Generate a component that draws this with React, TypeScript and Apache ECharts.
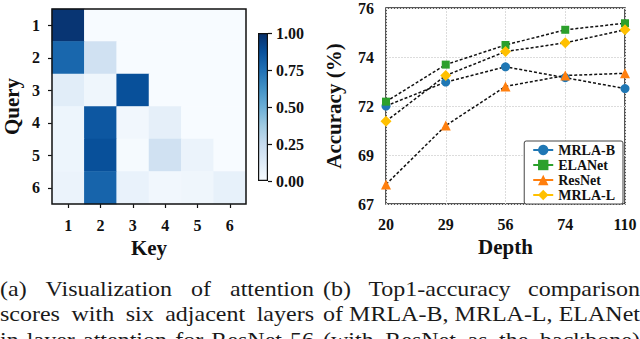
import React, { useEffect, useRef } from 'react';
import * as echarts from 'echarts';

// ---------- data ----------
const keyLabels = ['1', '2', '3', '4', '5', '6'];
const queryLabels = ['1', '2', '3', '4', '5', '6'];
// attention[query][key]
const attention = [
  [0.98, 0, 0, 0, 0, 0],
  [0.79, 0.2, 0, 0, 0, 0],
  [0.11, 0.04, 0.88, 0, 0, 0],
  [0.05, 0.85, 0.03, 0.09, 0, 0],
  [0.05, 0.88, 0.01, 0.2, 0.06, 0],
  [0.06, 0.8, 0.07, 0.03, 0.04, 0.08],
];
const colorbarRange = [0, 1];

const depths = ['20', '29', '56', '74', '110'];
const mrlaB = [71.5, 72.6, 73.3, 72.8, 72.3];
const elaNet = [71.7, 73.4, 74.3, 75.0, 75.3];
const resNet = [67.9, 70.6, 72.4, 72.9, 73.0];
const mrlaL = [70.8, 72.9, 74.0, 74.4, 75.0];
const accRange = [67, 76];

const captionA = [
  '(a) Visualization of attention',
  'scores with six adjacent layers',
  'in layer attention for ResNet-56',
];
const captionB = [
  '(b) Top1-accuracy comparison',
  'of MRLA-B, MRLA-L, ELANet',
  '(with ResNet as the backbone)',
];

// ---------- styles ----------
const SERIF = '"Liberation Serif", "Times New Roman", serif';
const BLUES = ['#f7fbff', '#deebf7', '#c6dbef', '#9ecae1', '#6baed6', '#4292c6', '#2171b5', '#08519c', '#08306b'];
const INK = '#111';

const CAP_SIZE = 20;
const CAP_SCALE = 1.2;
const CAP_LINES_Y = [289, 314.5, 340];

function measure(text: string, fontSize: number): number {
  const c = document.createElement('canvas');
  const ctx = c.getContext('2d');
  if (!ctx) return text.length * fontSize * 0.45;
  ctx.font = `${fontSize}px "Liberation Serif"`;
  return ctx.measureText(text).width;
}

function justified(line: string, x0: number, x1: number, y: number): any[] {
  const words = line.split(' ');
  const widths = words.map((w) => measure(w, CAP_SIZE) * CAP_SCALE);
  const total = widths.reduce((a, b) => a + b, 0);
  const gap = words.length > 1 ? (x1 - x0 - total) / (words.length - 1) : 0;
  let x = x0;
  return words.map((w, i) => {
    const el = {
      type: 'text',
      x,
      y,
      scaleX: CAP_SCALE,
      silent: true,
      style: {
        text: w,
        fontSize: CAP_SIZE,
        fontFamily: SERIF,
        fill: '#1a1a1a',
        align: 'left',
        verticalAlign: 'middle',
      },
    };
    x += widths[i] + gap;
    return el;
  });
}

export default function App() {
  const ref = useRef<HTMLDivElement>(null);

  useEffect(() => {
    if (!ref.current) return;
    const chart = echarts.init(ref.current, undefined, { renderer: 'svg' });

    const heatData: number[][] = [];
    attention.forEach((row, q) => row.forEach((v, k) => heatData.push([k, q, v])));

    const gradStops = BLUES.map((c, i) => ({ offset: i / (BLUES.length - 1), color: c }));

    const tickLabel = { fontFamily: SERIF, fontWeight: 'bold', fontSize: 16, color: INK };
    const nameStyle = { fontFamily: SERIF, fontWeight: 'bold', fontSize: 21, color: INK };
    const dashed = { color: INK, width: 1.5, type: [3, 2] };

    const mk = (name: string, data: number[], symbol: string, size: number, color: string) => ({
      name,
      type: 'line',
      xAxisIndex: 2,
      yAxisIndex: 2,
      data,
      symbol,
      symbolSize: size,
      showSymbol: true,
      itemStyle: { color, borderWidth: 0 },
      lineStyle: dashed,
      z: 3,
    });

    const caption: any[] = [];
    CAP_LINES_Y.forEach((y, i) => {
      caption.push(...justified(captionA[i], 0, 314, y));
      caption.push(...justified(captionB[i], 323, 640, y));
    });

    const option: any = {
      animation: false,
      backgroundColor: '#ffffff',
      textStyle: { fontFamily: SERIF },
      grid: [
        { left: 50, top: 9, width: 196, height: 195, show: true, z: 10, backgroundColor: 'transparent', borderColor: INK, borderWidth: 1.5 },
        { left: 258, top: 33, width: 10, height: 148 },
        { left: 386, top: 7, width: 239, height: 197, show: true, backgroundColor: 'transparent', borderColor: '#222', borderWidth: 1.5 },
      ],
      xAxis: [
        {
          gridIndex: 0, type: 'category', data: keyLabels,
          name: 'Key', nameLocation: 'middle', nameGap: 33, nameTextStyle: nameStyle,
          axisLine: { show: false },
          axisTick: { show: true, alignWithLabel: true, length: 4, lineStyle: { color: INK, width: 1.2 } },
          axisLabel: { ...tickLabel, margin: 13 },
          splitLine: { show: false },
        },
        { gridIndex: 1, type: 'category', data: ['c'], show: false },
        {
          gridIndex: 2, type: 'category', data: depths, boundaryGap: false,
          name: 'Depth', nameLocation: 'middle', nameGap: 31, nameTextStyle: nameStyle,
          axisLine: { show: false }, axisTick: { show: false },
          axisLabel: { ...tickLabel, margin: 12 },
          splitLine: { show: true, interval: 0, lineStyle: { color: '#dcdcdc', width: 1, type: [2, 1] } },
        },
      ],
      yAxis: [
        {
          gridIndex: 0, type: 'category', data: queryLabels, inverse: true,
          name: 'Query', nameLocation: 'middle', nameGap: 30, nameRotate: 90, nameTextStyle: nameStyle,
          axisLine: { show: false },
          axisTick: { show: true, alignWithLabel: true, length: 4, lineStyle: { color: INK, width: 1.2 } },
          axisLabel: { ...tickLabel, margin: 12 },
          splitLine: { show: false },
        },
        {
          gridIndex: 1, type: 'value', min: colorbarRange[0], max: colorbarRange[1], interval: 0.25, position: 'right',
          axisLine: { show: false },
          axisTick: { show: true, length: 4, lineStyle: { color: INK, width: 1.2 } },
          axisLabel: { ...tickLabel, margin: 8, formatter: (v: number) => v.toFixed(2) },
          splitLine: { show: false },
        },
        {
          gridIndex: 2, type: 'value', min: accRange[0], max: accRange[1], interval: (accRange[1] - accRange[0]) / 4,
          name: 'Accuracy (%)', nameLocation: 'middle', nameGap: 42, nameRotate: 90, nameTextStyle: nameStyle,
          axisLine: { show: false }, axisTick: { show: false },
          axisLabel: { ...tickLabel, margin: 12, formatter: (v: number) => v.toFixed(0) },
          splitLine: { show: true, lineStyle: { color: '#dcdcdc', width: 1, type: [2, 1] } },
        },
      ],
      visualMap: {
        show: false, type: 'continuous', min: colorbarRange[0], max: colorbarRange[1], seriesIndex: 0,
        inRange: { color: BLUES },
      },
      legend: {
        orient: 'vertical', right: 17, bottom: 135,
        backgroundColor: '#fff', borderColor: '#444', borderWidth: 1, borderRadius: 2,
        padding: [2, 8, 2, 8], itemGap: 1, itemWidth: 20, itemHeight: 13,
        textStyle: { fontFamily: SERIF, fontWeight: 'bold', fontSize: 14, color: INK, lineHeight: 14 },
        data: [
          { name: 'MRLA-B', lineStyle: { color: '#1f77b4', type: 'solid', width: 2 } },
          { name: 'ELANet', lineStyle: { color: '#2ca02c', type: 'solid', width: 2 } },
          { name: 'ResNet', lineStyle: { color: '#ff7f0e', type: 'solid', width: 2 } },
          { name: 'MRLA-L', lineStyle: { color: '#ffc000', type: 'solid', width: 2 } },
        ],
      },
      series: [
        {
          type: 'heatmap', xAxisIndex: 0, yAxisIndex: 0, data: heatData,
          itemStyle: { borderWidth: 0 }, silent: true,
        },
        {
          type: 'bar', xAxisIndex: 1, yAxisIndex: 1, data: [colorbarRange[1]], barWidth: '100%', silent: true,
          itemStyle: {
            color: new echarts.graphic.LinearGradient(0, 1, 0, 0, gradStops),
            borderColor: INK, borderWidth: 1.2,
          },
        },
        mk('MRLA-B', mrlaB, 'circle', 9, '#1f77b4'),
        mk('ELANet', elaNet, 'rect', 8, '#2ca02c'),
        mk('ResNet', resNet, 'triangle', 10, '#ff7f0e'),
        mk('MRLA-L', mrlaL, 'diamond', 11, '#ffc000'),
      ],
      graphic: caption,
    };

    chart.setOption(option);
    return () => chart.dispose();
  }, []);

  return <div ref={ref} style={{ position: 'absolute', left: 0, top: 0, width: 640, height: 339 }} />;
}
